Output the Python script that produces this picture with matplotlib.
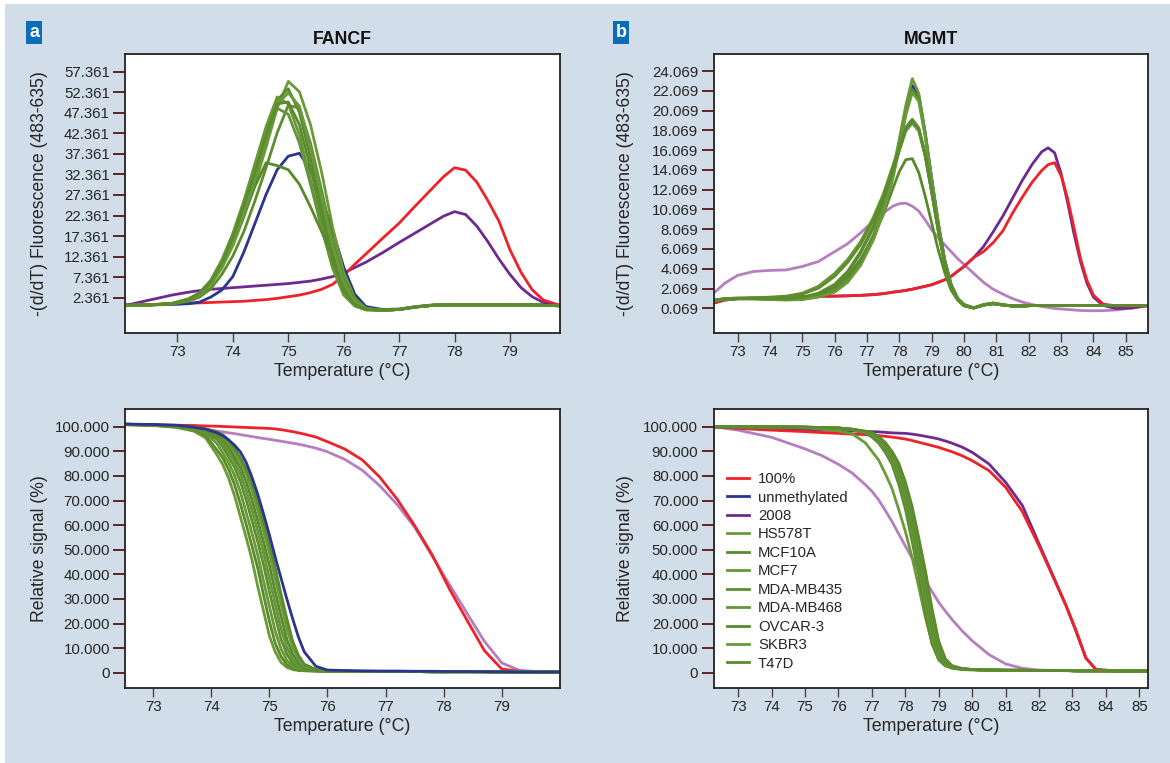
import matplotlib
matplotlib.use("Agg")
import matplotlib.pyplot as plt
from matplotlib.patches import Rectangle

plt.rcParams["font.family"] = ["Liberation Sans", "DejaVu Sans"]

CELL_LINES = ["HS578T", "MCF10A", "MCF7", "MDA-MB435", "MDA-MB468", "OVCAR-3", "SKBR3", "T47D"]

# ---- panel a, top: FANCF melting peaks -(d/dT) ----
FANCF_T = [72.1, 72.5, 72.9, 73.2, 73.4, 73.6, 73.8, 74.0, 74.2, 74.4, 74.6, 74.8, 75.0, 75.2,
           75.4, 75.6, 75.8, 76.0, 76.2, 76.4, 76.7, 77.0, 77.3, 77.6, 77.8, 78.0, 78.2, 78.4,
           78.6, 78.8, 79.0, 79.2, 79.4, 79.6, 79.9]
FANCF_DERIV_100 = [0.6, 0.7, 0.9, 1.0, 1.1, 1.2, 1.3, 1.4, 1.5, 1.7, 1.9, 2.2, 2.6, 3.0, 3.6, 4.4,
                   5.6, 7.8, 10.5, 13.0, 16.8, 20.5, 24.8, 29.0, 31.8, 34.0, 33.4, 30.5, 26.0,
                   21.0, 14.0, 8.5, 4.3, 1.8, 0.5]
FANCF_DERIV_2008 = [0.6, 1.8, 3.0, 3.7, 4.1, 4.4, 4.6, 4.8, 5.0, 5.2, 5.4, 5.6, 5.8, 6.1, 6.4, 6.9,
                    7.5, 8.4, 9.7, 11.0, 13.3, 15.8, 18.2, 20.6, 22.2, 23.3, 22.6, 19.8, 16.0,
                    11.8, 8.0, 4.8, 2.6, 1.2, 0.3]
FANCF_DERIV_UNMETH = [0.6, 0.6, 0.7, 0.9, 1.3, 2.5, 4.2, 7.5, 13.5, 20.5, 27.5, 33.5, 36.8, 37.5,
                      33.5, 26.5, 18.8, 9.8, 3.2, 0.2, -0.5, -0.4, 0.2, 0.6, 0.7, 0.7, 0.7, 0.7,
                      0.7, 0.7, 0.7, 0.7, 0.7, 0.6, 0.5]
FANCF_DERIV_GREEN = [
    [0.5, 0.6, 0.9, 1.8, 3.0, 5.5, 9.5, 15.0, 22.0, 30.0, 39.0, 48.5, 55.0, 52.5, 44.5, 33.0, 19.5,
     8.5, 2.2, -0.2, -0.7, -0.5, 0.1, 0.5, 0.6, 0.6, 0.6, 0.6, 0.6, 0.6, 0.6, 0.6, 0.6, 0.5, 0.4],
    [0.5, 0.6, 0.9, 2.0, 3.3, 6.0, 10.5, 16.5, 24.0, 32.5, 42.0, 50.5, 53.2, 47.5, 36.5, 24.5, 13.0,
     5.0, 1.0, -0.5, -0.7, -0.5, 0.1, 0.5, 0.6, 0.6, 0.6, 0.6, 0.6, 0.6, 0.6, 0.6, 0.6, 0.5, 0.4],
    [0.5, 0.6, 1.0, 2.1, 3.6, 6.6, 11.5, 18.0, 26.0, 35.0, 44.0, 51.2, 49.5, 42.0, 31.0, 19.5, 9.5,
     3.0, 0.3, -0.6, -0.7, -0.5, 0.1, 0.5, 0.6, 0.6, 0.6, 0.6, 0.6, 0.6, 0.6, 0.6, 0.6, 0.5, 0.4],
    [0.5, 0.6, 0.8, 1.5, 2.5, 4.5, 8.0, 12.5, 18.5, 26.0, 34.0, 42.5, 49.2, 48.5, 40.0, 28.5, 16.5,
     7.0, 1.8, -0.3, -0.7, -0.5, 0.1, 0.5, 0.6, 0.6, 0.6, 0.6, 0.6, 0.6, 0.6, 0.6, 0.6, 0.5, 0.4],
    [0.5, 0.6, 0.9, 1.9, 3.2, 6.0, 10.5, 16.5, 24.0, 32.0, 40.5, 48.5, 47.0, 40.0, 30.0, 19.5, 10.0,
     3.5, 0.5, -0.6, -0.7, -0.5, 0.1, 0.5, 0.6, 0.6, 0.6, 0.6, 0.6, 0.6, 0.6, 0.6, 0.6, 0.5, 0.4],
    [0.5, 0.6, 0.9, 1.9, 3.4, 6.0, 10.5, 16.0, 22.5, 29.5, 35.2, 34.5, 33.5, 30.0, 24.5, 18.5, 12.5,
     6.0, 1.2, -0.4, -0.7, -0.5, 0.1, 0.5, 0.6, 0.6, 0.6, 0.6, 0.6, 0.6, 0.6, 0.6, 0.6, 0.5, 0.4],
    [0.5, 0.6, 0.9, 1.8, 3.0, 5.6, 9.8, 15.5, 22.8, 31.0, 40.5, 49.5, 52.2, 49.0, 39.0, 27.0, 15.0,
     6.0, 1.5, -0.4, -0.7, -0.5, 0.1, 0.5, 0.6, 0.6, 0.6, 0.6, 0.6, 0.6, 0.6, 0.6, 0.6, 0.5, 0.4],
    [0.5, 0.6, 0.9, 2.0, 3.4, 6.2, 10.8, 17.0, 24.8, 33.0, 41.8, 49.5, 50.0, 44.5, 34.0, 22.0, 11.5,
     4.0, 0.7, -0.5, -0.7, -0.5, 0.1, 0.5, 0.6, 0.6, 0.6, 0.6, 0.6, 0.6, 0.6, 0.6, 0.6, 0.5, 0.4],
]
FANCF_DERIV_TICKS = [2.361, 7.361, 12.361, 17.361, 22.361, 27.361, 32.361, 37.361, 42.361,
                     47.361, 52.361, 57.361]

# ---- panel b, top: MGMT melting peaks -(d/dT) ----
MGMT_T = [72.26, 72.6, 73.0, 73.5, 74.0, 74.5, 75.0, 75.5, 76.0, 76.4, 76.8, 77.2, 77.5, 77.8,
          78.0, 78.2, 78.4, 78.6, 78.8, 79.0, 79.2, 79.4, 79.6, 79.8, 80.0, 80.3, 80.6, 80.9,
          81.2, 81.5, 81.8, 82.1, 82.4, 82.6, 82.8, 83.0, 83.2, 83.4, 83.6, 83.8, 84.0, 84.3,
          84.7, 85.2, 85.7]
MGMT_DERIV_100 = [0.6, 0.9, 1.05, 1.1, 1.15, 1.2, 1.25, 1.28, 1.3, 1.33, 1.38, 1.45, 1.55, 1.7,
                  1.78, 1.88, 2.0, 2.15, 2.3, 2.45, 2.7, 2.95, 3.3, 3.8, 4.3, 5.2, 5.8, 6.7, 7.9,
                  9.7, 11.3, 12.8, 14.0, 14.6, 14.8, 13.5, 11.2, 8.2, 5.1, 2.9, 1.4, 0.5, 0.3,
                  0.3, 0.3]
MGMT_DERIV_2008 = [0.6, 0.9, 1.05, 1.1, 1.15, 1.2, 1.25, 1.28, 1.3, 1.33, 1.38, 1.45, 1.55, 1.7,
                   1.78, 1.88, 2.0, 2.15, 2.3, 2.45, 2.7, 2.95, 3.3, 3.8, 4.3, 5.2, 6.3, 7.8, 9.4,
                   11.2, 13.0, 14.6, 15.9, 16.3, 15.8, 13.7, 10.8, 7.6, 4.8, 2.6, 1.2, 0.35, 0.05,
                   0.1, 0.4]
MGMT_DERIV_LIGHT = [1.6, 2.6, 3.4, 3.8, 3.9, 3.95, 4.3, 4.8, 5.8, 6.6, 7.7, 8.9, 9.7, 10.4, 10.65,
                    10.7, 10.4, 9.9, 9.0, 8.0, 7.2, 6.5, 5.8, 5.1, 4.5, 3.6, 2.7, 2.0, 1.5, 1.05,
                    0.7, 0.45, 0.25, 0.15, 0.05, 0.0, -0.05, -0.1, -0.15, -0.17, -0.18, -0.17,
                    -0.1, 0.1, 0.3]
MGMT_DERIV_UNMETH = [0.8, 1.0, 1.05, 1.05, 1.0, 1.0, 1.05, 1.3, 1.85, 2.9, 4.7, 7.3, 10.1, 13.7,
                     16.9, 20.2, 22.6, 21.6, 17.8, 13.2, 8.8, 5.0, 2.5, 1.1, 0.45, 0.1, 0.4, 0.55,
                     0.4, 0.3, 0.3, 0.35, 0.35, 0.35, 0.35, 0.35, 0.35, 0.35, 0.35, 0.35, 0.35,
                     0.35, 0.35, 0.35, 0.35]
MGMT_DERIV_GREEN = [
    [0.8, 1.0, 1.05, 1.05, 1.0, 1.0, 1.05, 1.3, 1.9, 3.0, 4.8, 7.5, 10.3, 14.0, 17.2, 20.6, 23.3,
     21.8, 17.8, 13.2, 8.8, 5.0, 2.5, 1.1, 0.45, 0.1, 0.4, 0.55, 0.4, 0.3, 0.3, 0.35, 0.35, 0.35,
     0.35, 0.35, 0.35, 0.35, 0.35, 0.35, 0.35, 0.35, 0.35, 0.35, 0.35],
    [0.8, 1.0, 1.05, 1.05, 1.0, 0.95, 1.0, 1.25, 1.8, 2.8, 4.5, 7.1, 9.8, 13.4, 16.5, 19.8, 22.2,
     21.3, 17.6, 13.0, 8.6, 4.9, 2.4, 1.0, 0.4, 0.1, 0.4, 0.6, 0.4, 0.3, 0.3, 0.35, 0.35, 0.35,
     0.35, 0.35, 0.35, 0.35, 0.35, 0.35, 0.35, 0.35, 0.35, 0.35, 0.35],
    [0.9, 1.05, 1.1, 1.15, 1.2, 1.3, 1.6, 2.3, 3.6, 5.0, 6.8, 9.3, 11.6, 14.5, 16.5, 18.4, 19.2,
     18.3, 15.6, 11.9, 8.0, 4.7, 2.3, 1.0, 0.35, 0.1, 0.45, 0.6, 0.45, 0.3, 0.3, 0.35, 0.35, 0.35,
     0.35, 0.35, 0.35, 0.35, 0.35, 0.35, 0.35, 0.35, 0.35, 0.35, 0.35],
    [0.9, 1.05, 1.1, 1.1, 1.15, 1.25, 1.5, 2.1, 3.3, 4.7, 6.5, 9.0, 11.3, 14.2, 16.3, 18.2, 19.0,
     18.2, 15.5, 11.8, 7.9, 4.6, 2.2, 1.0, 0.35, 0.1, 0.4, 0.55, 0.4, 0.3, 0.3, 0.35, 0.35, 0.35,
     0.35, 0.35, 0.35, 0.35, 0.35, 0.35, 0.35, 0.35, 0.35, 0.35, 0.35],
    [0.85, 1.0, 1.05, 1.05, 1.05, 1.05, 1.15, 1.5, 2.3, 3.6, 5.6, 8.2, 10.7, 13.8, 16.0, 18.0, 18.8,
     18.0, 15.4, 11.8, 8.0, 4.6, 2.2, 1.0, 0.35, 0.1, 0.4, 0.55, 0.4, 0.3, 0.3, 0.35, 0.35, 0.35,
     0.35, 0.35, 0.35, 0.35, 0.35, 0.35, 0.35, 0.35, 0.35, 0.35, 0.35],
    [0.85, 1.0, 1.05, 1.05, 1.05, 1.05, 1.1, 1.4, 2.2, 3.3, 5.0, 7.3, 9.5, 12.2, 13.9, 15.1, 15.2,
     13.8, 11.4, 8.7, 6.0, 3.7, 1.9, 0.9, 0.3, 0.1, 0.4, 0.5, 0.4, 0.3, 0.3, 0.35, 0.35, 0.35,
     0.35, 0.35, 0.35, 0.35, 0.35, 0.35, 0.35, 0.35, 0.35, 0.35, 0.35],
    [0.8, 1.0, 1.0, 1.0, 0.95, 0.9, 0.95, 1.2, 1.7, 2.7, 4.4, 7.0, 9.7, 13.2, 16.3, 19.6, 21.9,
     21.0, 17.4, 12.9, 8.5, 4.8, 2.3, 1.0, 0.4, 0.1, 0.45, 0.6, 0.45, 0.3, 0.3, 0.35, 0.35, 0.35,
     0.35, 0.35, 0.35, 0.35, 0.35, 0.35, 0.35, 0.35, 0.35, 0.35, 0.35],
    [0.85, 1.0, 1.05, 1.05, 1.05, 1.05, 1.2, 1.6, 2.5, 3.8, 5.8, 8.4, 10.9, 14.0, 16.2, 18.2, 19.1,
     18.3, 15.7, 12.0, 8.1, 4.7, 2.3, 1.0, 0.35, 0.1, 0.4, 0.55, 0.4, 0.3, 0.3, 0.35, 0.35, 0.35,
     0.35, 0.35, 0.35, 0.35, 0.35, 0.35, 0.35, 0.35, 0.35, 0.35, 0.35],
]
MGMT_DERIV_TICKS = [0.069, 2.069, 4.069, 6.069, 8.069, 10.069, 12.069, 14.069, 16.069, 18.069,
                    20.069, 22.069, 24.069]

# ---- panel a, bottom: FANCF relative signal (%) ----
FANCF_MELT_T = [72.52, 73.0, 73.4, 73.7, 73.9, 74.1, 74.2, 74.3, 74.4, 74.5, 74.6, 74.7, 74.8,
                74.9, 75.0, 75.1, 75.2, 75.3, 75.4, 75.5, 75.6, 75.8, 76.0, 76.3, 76.6, 76.9,
                77.2, 77.5, 77.8, 78.1, 78.4, 78.7, 79.0, 79.3, 79.6, 80.0]
FANCF_MELT_100 = [101.0, 100.8, 100.6, 100.5, 100.3, 100.2, 100.1, 100.0, 99.9, 99.8, 99.7, 99.6,
                  99.5, 99.4, 99.3, 99.1, 98.8, 98.4, 98.0, 97.5, 97.0, 95.8, 93.9, 90.9, 86.5,
                  79.5, 70.5, 59.8, 48.0, 34.0, 21.4, 9.0, 1.5, 0.6, 0.4, 0.3]
FANCF_MELT_2008 = [101.0, 100.7, 100.3, 99.6, 98.9, 98.2, 97.9, 97.5, 97.2, 96.8, 96.4, 96.0,
                   95.6, 95.2, 94.9, 94.5, 94.1, 93.7, 93.3, 92.9, 92.4, 91.3, 89.8, 86.7, 82.3,
                   76.0, 68.3, 59.2, 47.5, 35.8, 24.2, 12.8, 4.0, 1.0, 0.5, 0.3]
FANCF_MELT_UNMETH = [101.1, 100.9, 100.6, 99.8, 99.0, 97.5, 96.3, 94.6, 92.5, 89.8, 85.5, 79.5,
                     72.5, 64.5, 56.0, 47.0, 38.5, 30.0, 22.0, 14.5, 8.5, 2.6, 1.1, 0.9, 0.8, 0.7,
                     0.7, 0.6, 0.6, 0.5, 0.5, 0.4, 0.4, 0.3, 0.3, 0.3]
FANCF_MELT_GREEN = [
    [100.8, 100.5, 99.7, 98.2, 95.5, 88.5, 84.5, 79.0, 72.0, 63.5, 55.0, 46.0, 35.0, 25.0, 15.0,
     8.5, 4.2, 2.2, 1.3, 0.9, 0.8, 0.7, 0.6, 0.6, 0.5, 0.5, 0.5, 0.5, 0.4, 0.4, 0.4, 0.4, 0.3,
     0.3, 0.3, 0.3],
    [100.8, 100.6, 99.9, 98.7, 96.5, 90.5, 87.3, 82.5, 76.5, 68.7, 60.3, 51.5, 42.5, 31.5, 21.0,
     12.0, 6.6, 3.3, 1.8, 1.1, 0.85, 0.7, 0.6, 0.6, 0.5, 0.5, 0.5, 0.5, 0.4, 0.4, 0.4, 0.4, 0.3,
     0.3, 0.3, 0.3],
    [100.9, 100.6, 99.9, 99.1, 97.5, 93.1, 89.3, 85.3, 80.2, 73.5, 65.2, 56.7, 47.8, 37.2, 27.0,
     17.0, 9.7, 5.0, 2.6, 1.5, 1.0, 0.75, 0.6, 0.6, 0.5, 0.5, 0.5, 0.5, 0.4, 0.4, 0.4, 0.4, 0.3,
     0.3, 0.3, 0.3],
    [100.9, 100.7, 100.0, 99.4, 98.0, 94.9, 91.7, 87.7, 83.5, 77.7, 70.3, 61.8, 53.2, 43.8, 33.0,
     23.0, 13.6, 7.6, 3.8, 2.0, 1.2, 0.8, 0.65, 0.6, 0.5, 0.5, 0.5, 0.5, 0.4, 0.4, 0.4, 0.4, 0.3,
     0.3, 0.3, 0.3],
    [100.9, 100.7, 100.1, 99.6, 98.4, 96.0, 93.4, 89.7, 85.8, 80.8, 74.2, 66.1, 57.6, 48.8, 38.3,
     28.0, 18.0, 10.3, 5.4, 2.7, 1.5, 0.85, 0.65, 0.6, 0.5, 0.5, 0.5, 0.5, 0.4, 0.4, 0.4, 0.4,
     0.3, 0.3, 0.3, 0.3],
    [101.0, 100.7, 100.1, 99.7, 98.7, 96.9, 94.9, 91.7, 87.7, 83.5, 77.7, 70.3, 61.8, 53.2, 43.8,
     33.0, 23.0, 13.6, 7.6, 3.8, 2.0, 1.0, 0.7, 0.6, 0.5, 0.5, 0.5, 0.5, 0.4, 0.4, 0.4, 0.4, 0.3,
     0.3, 0.3, 0.3],
    [101.0, 100.8, 100.2, 99.8, 98.95, 97.5, 96.0, 93.4, 89.7, 85.8, 80.8, 74.2, 66.1, 57.6, 48.8,
     38.3, 28.0, 18.0, 10.3, 5.4, 2.7, 1.2, 0.7, 0.6, 0.5, 0.5, 0.5, 0.5, 0.4, 0.4, 0.4, 0.4, 0.3,
     0.3, 0.3, 0.3],
    [101.0, 100.8, 100.2, 99.8, 99.15, 97.9, 96.7, 94.6, 91.3, 87.4, 82.9, 77.0, 69.5, 61.0, 52.4,
     42.7, 32.0, 22.0, 12.9, 7.1, 3.5, 1.3, 0.75, 0.6, 0.5, 0.5, 0.5, 0.5, 0.4, 0.4, 0.4, 0.4,
     0.3, 0.3, 0.3, 0.3],
]

# ---- panel b, bottom: MGMT relative signal (%) ----
MGMT_MELT_T = [72.27, 73.0, 74.0, 75.0, 75.5, 76.0, 76.4, 76.8, 77.0, 77.2, 77.4, 77.6, 77.8,
               78.0, 78.2, 78.4, 78.6, 78.8, 79.0, 79.2, 79.4, 79.7, 80.0, 80.5, 81.0, 81.5,
               82.0, 82.5, 82.8, 83.1, 83.4, 83.7, 84.0, 84.5, 85.27]
MGMT_MELT_100 = [100.0, 99.3, 98.6, 98.0, 97.6, 97.3, 97.0, 96.8, 96.6, 96.4, 96.1, 95.8, 95.4,
                 95.0, 94.4, 93.7, 93.0, 92.3, 91.6, 90.7, 89.8, 88.2, 86.2, 82.2, 75.4, 65.5,
                 51.5, 36.5, 27.5, 17.5, 6.0, 1.3, 1.0, 0.8, 0.5]
MGMT_MELT_2008 = [100.0, 99.5, 99.0, 98.7, 98.6, 98.5, 98.3, 98.1, 98.0, 97.9, 97.7, 97.5, 97.4,
                  97.3, 97.0, 96.6, 96.1, 95.6, 95.0, 94.2, 93.3, 91.7, 89.6, 84.9, 77.4, 68.0,
                  52.4, 36.9, 27.5, 17.0, 6.0, 1.4, 1.0, 0.8, 0.5]
MGMT_MELT_LIGHT = [100.0, 98.6, 95.7, 91.0, 88.3, 84.7, 81.3, 76.5, 73.8, 70.3, 66.0, 61.5, 56.5,
                   51.5, 46.7, 42.0, 37.5, 33.0, 28.6, 25.0, 21.6, 17.0, 13.0, 7.4, 3.6, 1.8,
                   1.1, 0.9, 0.8, 0.8, 0.7, 0.7, 0.6, 0.6, 0.5]
MGMT_MELT_UNMETH = [100.0, 100.0, 99.9, 99.8, 99.6, 99.4, 98.8, 97.8, 96.7, 94.5, 91.6, 87.3,
                    81.0, 72.0, 60.5, 47.0, 32.2, 17.3, 7.7, 3.6, 2.3, 1.5, 1.3, 1.1, 1.0, 1.0,
                    0.9, 0.9, 0.9, 0.8, 0.8, 0.8, 0.8, 0.7, 0.7]
MGMT_MELT_GREEN = [
    [100.0, 99.9, 99.8, 99.5, 99.0, 98.3, 97.2, 93.5, 90.0, 86.5, 81.0, 75.0, 66.5, 57.5, 47.0,
     35.0, 22.5, 12.0, 5.8, 3.0, 1.8, 1.3, 1.1, 1.0, 1.0, 0.9, 0.9, 0.9, 0.9, 0.8, 0.8, 0.8, 0.8,
     0.7, 0.7],
    [100.0, 100.0, 99.9, 99.8, 99.6, 99.4, 98.8, 97.5, 95.8, 93.4, 89.6, 84.8, 76.8, 66.7, 53.6,
     40.1, 24.4, 11.7, 5.2, 2.7, 2.0, 1.4, 1.3, 1.1, 1.0, 1.0, 0.9, 0.9, 0.9, 0.8, 0.8, 0.8, 0.8,
     0.7, 0.7],
    [100.0, 100.0, 99.9, 99.8, 99.6, 99.4, 98.8, 97.6, 96.3, 94.0, 90.6, 86.0, 78.9, 69.4, 57.1,
     43.6, 28.4, 14.4, 6.3, 3.1, 2.1, 1.5, 1.3, 1.1, 1.0, 1.0, 0.9, 0.9, 0.9, 0.8, 0.8, 0.8, 0.8,
     0.7, 0.7],
    [100.0, 100.0, 99.9, 99.8, 99.6, 99.4, 98.9, 97.8, 96.6, 94.3, 91.4, 87.0, 80.6, 71.5, 59.8,
     46.3, 31.6, 16.8, 7.4, 3.5, 2.3, 1.5, 1.3, 1.1, 1.0, 1.0, 0.9, 0.9, 0.9, 0.8, 0.8, 0.8, 0.8,
     0.7, 0.7],
    [100.0, 100.0, 99.9, 99.8, 99.6, 99.4, 98.9, 97.9, 97.0, 95.0, 92.2, 88.0, 82.3, 73.5, 62.4,
     48.9, 34.8, 19.4, 8.7, 4.0, 2.4, 1.6, 1.3, 1.1, 1.0, 1.0, 0.9, 0.9, 0.9, 0.8, 0.8, 0.8, 0.8,
     0.7, 0.7],
    [100.0, 100.0, 99.9, 99.8, 99.7, 99.5, 99.0, 98.0, 97.4, 95.5, 93.0, 89.0, 84.0, 75.5, 65.0,
     51.5, 38.0, 22.0, 10.0, 4.5, 2.5, 1.6, 1.3, 1.1, 1.0, 1.0, 0.9, 0.9, 0.9, 0.8, 0.8, 0.8, 0.8,
     0.7, 0.7],
    [100.0, 100.0, 99.9, 99.8, 99.7, 99.5, 99.0, 98.1, 97.5, 95.8, 93.4, 89.6, 84.8, 76.8, 66.7,
     53.6, 40.1, 24.4, 11.7, 5.2, 2.7, 1.7, 1.3, 1.1, 1.0, 1.0, 0.9, 0.9, 0.9, 0.8, 0.8, 0.8, 0.8,
     0.7, 0.7],
    [100.0, 100.0, 99.9, 99.8, 99.7, 99.5, 99.0, 98.2, 97.55, 96.0, 93.6, 90.0, 85.3, 77.6, 67.8,
     55.0, 41.5, 26.0, 12.8, 5.6, 2.85, 1.7, 1.3, 1.1, 1.0, 1.0, 0.9, 0.9, 0.9, 0.8, 0.8, 0.8,
     0.8, 0.7, 0.7],
]
MELT_TICKS = [0, 10, 20, 30, 40, 50, 60, 70, 80, 90, 100]

RED = "#ee2229"
BLUE = "#2b3590"
PURPLE = "#6e2a8e"
ORCHID = "#b67ec1"
GREENS = ["#6b9b38", "#5a8a2b", "#679836", "#5d8d2d", "#64953a", "#58892a", "#6a9a3b", "#5b8b2c"]
BG = "#d1dde9"
TICK_COLOR = "#5e2626"
TEXT_COLOR = "#262626"
LW = 2.0

W, H = 1170, 763
LEFT_COL = (125.3, 434.6)   # pixel left, width
RIGHT_COL = (713.7, 434.7)


def style_axes(ax, xlim, ylim, xticks, yticks, yticklabels, ylabel, ylabel_x):
    ax.set_xlim(*xlim)
    ax.set_ylim(*ylim)
    ax.set_xticks(xticks)
    ax.set_yticks(yticks)
    ax.set_yticklabels(yticklabels)
    ax.tick_params(axis="y", direction="out", length=8.6, width=1.4, color=TICK_COLOR,
                   labelsize=10.8, labelcolor=TEXT_COLOR, pad=2.5)
    ax.tick_params(axis="x", direction="out", length=6.5, width=1.0, color="#444444",
                   labelsize=10.8, labelcolor=TEXT_COLOR, pad=2)
    for spine in ax.spines.values():
        spine.set_color("#222222")
        spine.set_linewidth(1.3)
    ax.set_xlabel("Temperature (°C)", fontsize=12.8, color=TEXT_COLOR)
    ax.set_ylabel(ylabel, fontsize=12.7, color=TEXT_COLOR)
    ax.xaxis.set_label_coords(0.5, -0.108)
    ax.yaxis.set_label_coords(ylabel_x, 0.5)


fig = plt.figure(figsize=(W / 100, H / 100), dpi=100, facecolor="white")
fig.patches.append(Rectangle((5 / W, 0), 1 - 5 / W, 1 - 4 / H,
                             transform=fig.transFigure, facecolor=BG, edgecolor="none",
                             zorder=-10))

ax_a_top = fig.add_axes([LEFT_COL[0] / W, 1 - 333 / H, LEFT_COL[1] / W, 279 / H])
ax_b_top = fig.add_axes([RIGHT_COL[0] / W, 1 - 333 / H, RIGHT_COL[1] / W, 279 / H])
ax_a_bot = fig.add_axes([LEFT_COL[0] / W, 1 - 688 / H, LEFT_COL[1] / W, 279 / H])
ax_b_bot = fig.add_axes([RIGHT_COL[0] / W, 1 - 688 / H, RIGHT_COL[1] / W, 279 / H])

# FANCF derivative
ax = ax_a_top
ax.plot(FANCF_T, FANCF_DERIV_2008, color=PURPLE, lw=LW)
ax.plot(FANCF_T, FANCF_DERIV_100, color=RED, lw=LW)
ax.plot(FANCF_T, FANCF_DERIV_UNMETH, color=BLUE, lw=LW)
for values, color in zip(FANCF_DERIV_GREEN, GREENS):
    ax.plot(FANCF_T, values, color=color, lw=LW)
style_axes(ax, (72.06, 79.9), (-6.23, 61.67), range(73, 80), FANCF_DERIV_TICKS,
           [f"{v:.3f}" for v in FANCF_DERIV_TICKS], "-(d/dT) Fluorescence (483-635)", -0.178)
ax.set_title("FANCF", fontsize=12.8, fontweight="bold", color="#111111", pad=7)

# MGMT derivative
ax = ax_b_top
ax.plot(MGMT_T, MGMT_DERIV_LIGHT, color=ORCHID, lw=LW)
ax.plot(MGMT_T, MGMT_DERIV_2008, color=PURPLE, lw=LW)
ax.plot(MGMT_T, MGMT_DERIV_100, color=RED, lw=LW)
ax.plot(MGMT_T, MGMT_DERIV_UNMETH, color=BLUE, lw=LW)
for values, color in zip(MGMT_DERIV_GREEN, GREENS):
    ax.plot(MGMT_T, values, color=color, lw=LW)
style_axes(ax, (72.26, 85.7), (-2.43, 25.79), range(73, 86), MGMT_DERIV_TICKS,
           [f"{v:.3f}" for v in MGMT_DERIV_TICKS], "-(d/dT) Fluorescence (483-635)", -0.183)
ax.set_title("MGMT", fontsize=12.8, fontweight="bold", color="#111111", pad=7)

melt_labels = ["0" if v == 0 else f"{v:.3f}" for v in MELT_TICKS]

# FANCF relative signal
ax = ax_a_bot
ax.plot(FANCF_MELT_T, FANCF_MELT_2008, color=ORCHID, lw=LW)
ax.plot(FANCF_MELT_T, FANCF_MELT_100, color=RED, lw=LW)
for values, color in zip(FANCF_MELT_GREEN, GREENS):
    ax.plot(FANCF_MELT_T, values, color=color, lw=LW)
ax.plot(FANCF_MELT_T, FANCF_MELT_UNMETH, color=BLUE, lw=LW)
style_axes(ax, (72.52, 80.0), (-6.2, 107.2), range(73, 80), MELT_TICKS, melt_labels,
           "Relative signal (%)", -0.178)

# MGMT relative signal
ax = ax_b_bot
ax.plot(MGMT_MELT_T, MGMT_MELT_LIGHT, color=ORCHID, lw=LW)
h_2008, = ax.plot(MGMT_MELT_T, MGMT_MELT_2008, color=PURPLE, lw=LW)
h_100, = ax.plot(MGMT_MELT_T, MGMT_MELT_100, color=RED, lw=LW)
h_unmeth, = ax.plot(MGMT_MELT_T, MGMT_MELT_UNMETH, color=BLUE, lw=LW)
green_handles = []
for values, color in zip(MGMT_MELT_GREEN, GREENS):
    h, = ax.plot(MGMT_MELT_T, values, color=color, lw=LW)
    green_handles.append(h)
style_axes(ax, (72.27, 85.27), (-6.2, 107.2), range(73, 86), MELT_TICKS, melt_labels,
           "Relative signal (%)", -0.183)
leg = ax.legend([h_100, h_unmeth, h_2008] + green_handles,
                ["100%", "unmethylated", "2008"] + CELL_LINES,
                loc="upper left", bbox_to_anchor=(0.0306, 0.774), frameon=False,
                fontsize=10.7, handlelength=1.48, handletextpad=0.6, labelspacing=0.3,
                borderpad=0, borderaxespad=0)
for text in leg.get_texts():
    text.set_color(TEXT_COLOR)

# panel letters
for x, letter in [(34 / W, "a"), (621 / W, "b")]:
    fig.text(x, 1 - 32.5 / H, letter, color="white", fontsize=13, fontweight="bold",
             ha="center", va="center",
             bbox=dict(boxstyle="square,pad=0.14", facecolor="#0b6db7", edgecolor="none"))

fig.savefig("out.png", dpi=100, facecolor=fig.get_facecolor())
